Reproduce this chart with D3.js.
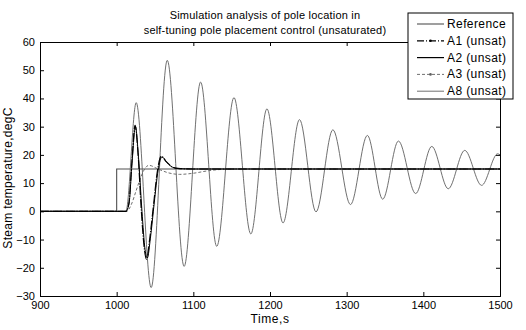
<!DOCTYPE html>
<html>
<head>
<meta charset="utf-8">
<script src="https://cdn.jsdelivr.net/npm/d3@7"></script>
<style>
  body { margin: 0; background: #fff; }
  svg { display: block; font-family: Arial, "Liberation Sans", sans-serif; }
</style>
</head>
<body>
<div id="chart"></div>
<script>
// time axis ticks and y ticks
const xTicks = [900, 1000, 1100, 1200, 1300, 1400, 1500];
const yTicks = [-30, -20, -10, 0, 10, 20, 30, 40, 50, 60];

// series as [time, value]
const refData = [[900, 0], [1000, 0], [1000, 15], [1500, 15]];

const a1Data = [
  [900, 0], [1012, 0], [1016, 3], [1020, 18], [1024, 30.5], [1028, 20], [1032, 1],
  [1036, -13], [1039, -17], [1043, -10], [1048, 2], [1053, 14], [1058, 19.5],
  [1065, 17.5], [1072, 15.8], [1080, 15.2], [1100, 15], [1500, 15]
];

const a2Data = [
  [900, 0], [1012, 0], [1016, 2.5], [1020, 17], [1024.5, 30], [1028.5, 19], [1033, 0],
  [1037, -13.5], [1040, -16.5], [1044, -9.5], [1049, 3], [1054, 14.5], [1059, 19.3],
  [1066, 17.2], [1073, 15.6], [1082, 15.1], [1100, 15], [1500, 15]
];

const a3Data = [
  [900, 0], [1013, 0], [1020, 3], [1025, 7], [1030, 11], [1035, 14.3], [1042, 16.3],
  [1054, 15], [1068, 13.6], [1082, 13.1], [1100, 13.5], [1120, 14.4], [1140, 14.9],
  [1160, 15], [1500, 15]
];

const a8Data = [
  [900, 0], [1012, 0], [1025.5, 38.5], [1045, -27], [1066, 53.5], [1088, -19.5],
  [1109.5, 45.8], [1130.5, -12.4], [1153, 40.3], [1175, -8], [1196, 36.3], [1217, -4.1],
  [1238.5, 32.5], [1260, -0.2], [1282, 28.9], [1305, 2.4], [1327, 26.9], [1347, 4.3],
  [1367.5, 24.9], [1390, 6.3], [1411, 23], [1432.5, 8], [1454, 21.6], [1476, 9.2],
  [1497, 20.4], [1500, 20]
];

const seriesNames = ['Reference', 'A1 (unsat)', 'A2 (unsat)', 'A3 (unsat)', 'A8 (unsat)'];

const width = 526, height = 330;
const margin = {left: 40, right: 26, top: 42, bottom: 34};

const svg = d3.select('#chart').append('svg')
  .attr('width', width)
  .attr('height', height);

const x = d3.scaleLinear().domain([900, 1500]).range([margin.left, width - margin.right]);
const y = d3.scaleLinear().domain([-30, 60]).range([height - margin.bottom, margin.top]);

const line = d3.line().x(d => x(d[0])).y(d => y(d[1]));
const smooth = d3.line().x(d => x(d[0])).y(d => y(d[1])).curve(d3.curveMonotoneX);

svg.append('clipPath').attr('id', 'clip')
  .append('rect')
  .attr('x', margin.left).attr('y', margin.top)
  .attr('width', x(1500) - x(900)).attr('height', y(-30) - y(60));

const plot = svg.append('g').attr('clip-path', 'url(#clip)');

// series styles
const styles = [
  {data: refData, gen: line, color: '#505050', w: 1.1, dash: null},
  {data: a8Data, gen: smooth, color: '#606060', w: 0.9, dash: null},
  {data: a3Data, gen: smooth, color: '#606060', w: 0.9, dash: '3,2'},
  {data: a2Data, gen: smooth, color: '#000', w: 1, dash: null},
  {data: a1Data, gen: smooth, color: '#000', w: 1.2, dash: '9,1.5,1,1.5'}
];

styles.forEach(s => {
  plot.append('path')
    .attr('d', s.gen(s.data))
    .attr('fill', 'none')
    .attr('stroke', s.color)
    .attr('stroke-width', s.w)
    .attr('stroke-dasharray', s.dash);
});

// axes, MATLAB style box with inward ticks
const tickLen = 4;
svg.append('g')
  .attr('transform', `translate(0,${y(-30)})`)
  .call(d3.axisBottom(x).tickValues(xTicks).tickSize(-tickLen).tickPadding(5).tickFormat(d3.format('d')));
svg.append('g')
  .attr('transform', `translate(0,${y(60)})`)
  .call(d3.axisTop(x).tickValues(xTicks).tickSize(-tickLen).tickFormat(''));
svg.append('g')
  .attr('transform', `translate(${x(900)},0)`)
  .call(d3.axisLeft(y).tickValues(yTicks).tickSize(-tickLen).tickPadding(5));
svg.append('g')
  .attr('transform', `translate(${x(1500)},0)`)
  .call(d3.axisRight(y).tickValues(yTicks).tickSize(-tickLen).tickFormat(''));

svg.selectAll('.domain').attr('stroke', '#000').attr('stroke-width', 1);
svg.selectAll('.tick line').attr('stroke', '#000');
svg.selectAll('.tick text')
  .attr('fill', '#000')
  .attr('font-size', '11px')
  .attr('font-family', 'Arial, "Liberation Sans", sans-serif');

// title
svg.append('text')
  .attr('x', 265).attr('y', 19)
  .attr('text-anchor', 'middle')
  .attr('font-size', '11px')
  .style('letter-spacing', '0.2px')
  .text('Simulation analysis of pole location in');
svg.append('text')
  .attr('x', 265).attr('y', 34)
  .attr('text-anchor', 'middle')
  .attr('font-size', '11px')
  .style('letter-spacing', '0.2px')
  .text('self-tuning pole placement control (unsaturated)');

// axis labels
svg.append('text')
  .attr('x', 270).attr('y', 323)
  .attr('text-anchor', 'middle')
  .attr('font-size', '12px')
  .style('letter-spacing', '0.6px')
  .text('Time,s');
svg.append('text')
  .attr('transform', 'translate(12,178) rotate(-90)')
  .attr('text-anchor', 'middle')
  .attr('font-size', '12px')
  .style('letter-spacing', '0.3px')
  .text('Steam temperature,degC');

// legend
const legend = svg.append('g');
legend.append('rect')
  .attr('x', 408).attr('y', 13)
  .attr('width', 105).attr('height', 86)
  .attr('fill', '#fff')
  .attr('stroke', '#000');

const legendStyles = [
  {color: '#505050', dash: null, w: 1.1, marker: false},
  {color: '#000', dash: '7,2,1,2', w: 1.2, marker: true},
  {color: '#000', dash: null, w: 1.2, marker: false},
  {color: '#606060', dash: '3,2', w: 0.9, marker: true},
  {color: '#606060', dash: null, w: 0.9, marker: false}
];

seriesNames.forEach((name, i) => {
  const ly = 24 + i * 16.8;
  const st = legendStyles[i];
  legend.append('line')
    .attr('x1', 417).attr('x2', 444)
    .attr('y1', ly).attr('y2', ly)
    .attr('stroke', st.color)
    .attr('stroke-width', st.w)
    .attr('stroke-dasharray', st.dash);
  if (st.marker) {
    legend.append('circle')
      .attr('cx', 430.5).attr('cy', ly).attr('r', 1.3)
      .attr('fill', st.color);
  }
  legend.append('text')
    .attr('x', 447).attr('y', ly + 4)
    .attr('font-size', '12px')
    .style('letter-spacing', '0.4px')
    .text(name);
});
</script>
</body>
</html>
